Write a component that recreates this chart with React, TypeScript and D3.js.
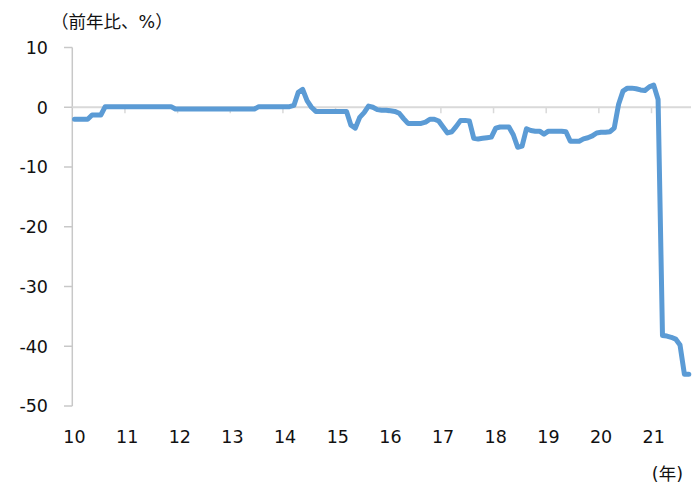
import { useEffect, useRef } from "react";
import * as d3 from "d3";

// monthly values (前年比, %), Jan..Dec of each year
const y2010 = [-2.0, -2.0, -2.0, -2.0, -1.3, -1.3, -1.3, 0.1, 0.1, 0.1, 0.1, 0.1];
const y2011 = [0.1, 0.1, 0.1, 0.1, 0.1, 0.1, 0.1, 0.1, 0.1, 0.1, 0.1, -0.3];
const y2012 = [-0.3, -0.3, -0.3, -0.3, -0.3, -0.3, -0.3, -0.3, -0.3, -0.3, -0.3, -0.3];
const y2013 = [-0.3, -0.3, -0.3, -0.3, -0.3, -0.3, 0.1, 0.1, 0.1, 0.1, 0.1, 0.1];
const y2014 = [0.1, 0.1, 0.3, 2.5, 3.0, 1.1, 0.0, -0.7, -0.7, -0.7, -0.7, -0.7];
const y2015 = [-0.7, -0.7, -0.7, -3.0, -3.5, -1.7, -0.9, 0.2, 0.0, -0.4, -0.5, -0.5];
const y2016 = [-0.6, -0.7, -1.0, -1.9, -2.7, -2.7, -2.7, -2.7, -2.5, -2.0, -2.0, -2.3];
const y2017 = [-3.3, -4.3, -4.1, -3.2, -2.2, -2.2, -2.3, -5.2, -5.3, -5.2, -5.1, -5.0];
const y2018 = [-3.5, -3.3, -3.3, -3.3, -4.6, -6.7, -6.5, -3.6, -3.9, -4.0, -4.0, -4.5];
const y2019 = [-4.0, -4.0, -4.0, -4.0, -4.1, -5.7, -5.7, -5.7, -5.3, -5.1, -4.8, -4.3];
const y2020 = [-4.2, -4.2, -4.1, -3.5, 0.5, 2.7, 3.2, 3.2, 3.1, 2.9, 2.8, 3.4];
const y2021 = [3.7, 1.3, -38.2, -38.3, -38.5, -38.8, -39.8, -44.7, -44.7];

const years = [10, 11, 12, 13, 14, 15, 16, 17, 18, 19, 20, 21];
const yTicks = [10, 0, -10, -20, -30, -40, -50];
const series = [y2010, y2011, y2012, y2013, y2014, y2015, y2016, y2017, y2018, y2019, y2020, y2021];

const font = "'DejaVu Sans', 'Noto Sans CJK JP', sans-serif";

export default function App() {
  const svgRef = useRef<SVGSVGElement | null>(null);

  useEffect(() => {
    if (!svgRef.current) return;
    const width = 695;
    const height = 483;

    const rows = series.flatMap((vals, yi) =>
      vals.map((v, m) => ({ key: `${years[yi]}-${m + 1}`, year: years[yi], month: m, value: v }))
    );

    const svg = d3.select(svgRef.current);
    svg.selectAll("*").remove();
    svg.attr("width", width).attr("height", height);

    const x = d3.scaleBand<string>().domain(rows.map(r => r.key)).range([72.3, 691]).padding(0);
    const y = d3.scaleLinear().domain([-50, 10]).range([406, 47.5]);
    const cx = (k: string) => x(k)! + x.bandwidth() / 2;

    // y axis
    svg.append("line")
      .attr("x1", 72.3).attr("x2", 72.3)
      .attr("y1", y(10)).attr("y2", y(-50))
      .attr("stroke", "#c8c8c8").attr("stroke-width", 1.5);

    svg.selectAll("line.ytick")
      .data(yTicks)
      .enter()
      .append("line")
      .attr("class", "ytick")
      .attr("x1", 64).attr("x2", 72.3)
      .attr("y1", d => y(d)).attr("y2", d => y(d))
      .attr("stroke", "#c8c8c8").attr("stroke-width", 1.5);

    svg.selectAll("text.ylab")
      .data(yTicks)
      .enter()
      .append("text")
      .attr("class", "ylab")
      .attr("x", 48)
      .attr("y", d => y(d))
      .attr("dy", "0.36em")
      .attr("text-anchor", "end")
      .attr("font-family", font)
      .attr("font-size", 17.5)
      .attr("fill", "#111")
      .text(d => String(d));

    // x axis on zero line
    svg.append("line")
      .attr("x1", 72.3).attr("x2", 691)
      .attr("y1", y(0)).attr("y2", y(0))
      .attr("stroke", "#d9d9d9").attr("stroke-width", 2);

    svg.selectAll("line.xtick")
      .data(years.slice(1))
      .enter()
      .append("line")
      .attr("class", "xtick")
      .attr("x1", d => x(`${d}-1`)!).attr("x2", d => x(`${d}-1`)!)
      .attr("y1", y(0)).attr("y2", y(0) + 6)
      .attr("stroke", "#d9d9d9").attr("stroke-width", 1.5);

    svg.selectAll("text.xlab")
      .data(years)
      .enter()
      .append("text")
      .attr("class", "xlab")
      .attr("x", d => cx(`${d}-1`))
      .attr("y", 437)
      .attr("dy", "0.36em")
      .attr("text-anchor", "middle")
      .attr("font-family", font)
      .attr("font-size", 17.5)
      .attr("fill", "#111")
      .text(d => String(d));

    const line = d3.line<{ key: string; value: number }>()
      .x(d => cx(d.key))
      .y(d => y(d.value));

    svg.append("path")
      .datum(rows)
      .attr("d", line)
      .attr("fill", "none")
      .attr("stroke", "#5b9bd5")
      .attr("stroke-width", 5)
      .attr("stroke-linejoin", "round")
      .attr("stroke-linecap", "round");

    svg.append("text")
      .attr("x", 51)
      .attr("y", 22)
      .attr("dy", "0.36em")
      .attr("font-family", font)
      .attr("font-size", 17.5)
      .attr("fill", "#111")
      .text("（前年比、%）");

    svg.append("text")
      .attr("x", 683)
      .attr("y", 474)
      .attr("dy", "0.36em")
      .attr("text-anchor", "end")
      .attr("font-family", font)
      .attr("font-size", 17.5)
      .attr("fill", "#111")
      .text("(年)");
  }, []);

  return (
    <svg ref={svgRef} style={{ position: "absolute", left: 0, top: 0, background: "#fff" }} />
  );
}
